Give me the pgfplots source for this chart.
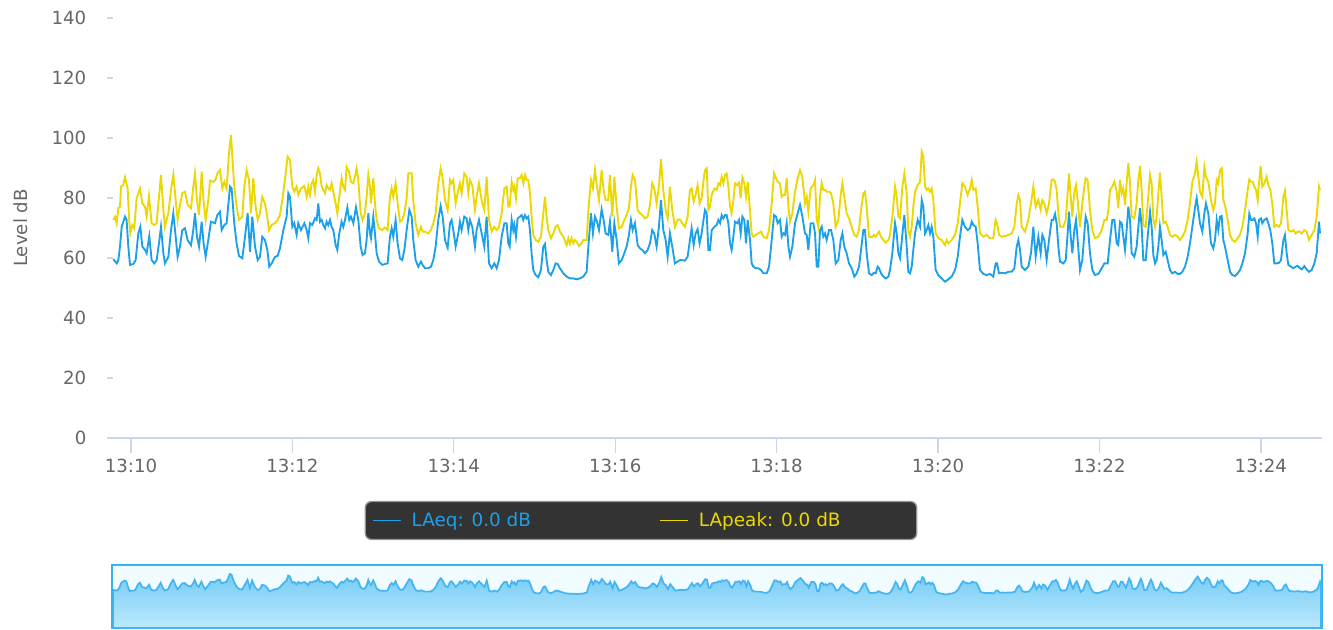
\documentclass[border=0pt]{standalone}
\usepackage{fontspec}
\setmainfont{DejaVu Sans}
\usepackage{pgfplots}
\usepackage{pgfplotstable}
\pgfplotsset{compat=1.18}
\definecolor{laeq}{RGB}{28,160,232}
\definecolor{lapeak}{RGB}{234,216,0}
\definecolor{tickgrey}{RGB}{204,214,235}
\definecolor{labelgrey}{RGB}{102,102,102}
\definecolor{legendbg}{RGB}{51,51,51}
\definecolor{legendborder}{RGB}{150,150,150}
\definecolor{navborder}{RGB}{55,178,240}
\definecolor{navline}{RGB}{70,180,240}
\definecolor{navbg}{RGB}{240,252,255}
\definecolor{navtop}{RGB}{118,204,245}
\definecolor{navbottom}{RGB}{188,234,253}

% LAeq (time in minutes after 13:00, level in dB)
\pgfplotstableread{
t v
9.781 59.6
9.823 58.2
9.843 59.3
9.864 63.8
9.885 70.4
9.926 73.8
9.946 72.7
9.967 63.8
9.988 57.7
10.029 58.0
10.058 59.3
10.091 68.2
10.116 70.4
10.141 63.8
10.174 62.7
10.194 61.6
10.227 67.3
10.256 59.3
10.289 58.2
10.318 59.3
10.347 64.9
10.372 70.4
10.401 61.6
10.421 58.2
10.463 60.4
10.496 69.3
10.525 74.9
10.554 67.1
10.578 60.4
10.607 63.8
10.636 69.3
10.669 69.9
10.702 66.0
10.744 64.3
10.772 69.3
10.793 74.9
10.818 67.1
10.843 63.8
10.876 72.1
10.900 64.9
10.925 60.4
10.958 66.0
10.991 72.1
11.041 71.6
11.070 74.3
11.103 75.4
11.124 69.3
11.157 71.0
11.185 71.6
11.227 83.8
11.247 83.2
11.280 71.6
11.309 64.9
11.338 60.7
11.380 59.9
11.413 67.1
11.446 74.9
11.475 62.1
11.503 73.8
11.537 63.8
11.570 59.3
11.598 60.4
11.627 67.1
11.660 66.0
11.689 62.7
11.714 57.1
11.743 58.2
11.784 60.4
11.817 60.7
11.846 63.2
11.888 69.3
11.929 73.8
11.950 81.6
11.970 80.4
11.999 70.4
12.024 71.6
12.053 67.7
12.073 71.6
12.106 69.3
12.148 71.6
12.177 69.3
12.197 66.6
12.218 71.6
12.247 71.0
12.280 73.2
12.301 72.7
12.321 78.2
12.342 72.1
12.363 72.7
12.383 71.0
12.404 69.9
12.424 72.1
12.445 71.0
12.466 72.7
12.486 70.4
12.507 69.3
12.536 64.3
12.557 62.7
12.581 68.2
12.610 72.1
12.631 70.4
12.652 72.7
12.681 76.8
12.705 72.7
12.726 73.8
12.755 71.6
12.788 76.9
12.817 72.7
12.846 63.8
12.870 61.0
12.899 61.6
12.920 66.0
12.941 74.9
12.961 68.2
12.974 66.6
13.003 73.8
13.023 68.2
13.044 61.6
13.073 58.8
13.114 57.7
13.147 58.0
13.180 58.2
13.209 67.1
13.230 69.9
13.250 67.1
13.279 72.7
13.304 64.9
13.333 59.9
13.362 59.3
13.387 62.7
13.416 69.3
13.449 76.0
13.478 73.8
13.498 66.0
13.527 59.3
13.560 57.1
13.593 58.8
13.614 57.7
13.643 56.6
13.684 56.6
13.717 57.1
13.746 59.3
13.775 63.8
13.808 72.7
13.837 77.3
13.862 73.8
13.891 66.0
13.924 63.4
13.953 71.6
13.973 72.7
13.994 69.3
14.023 63.8
14.056 68.2
14.076 72.1
14.097 69.3
14.130 73.8
14.159 73.2
14.180 69.3
14.200 72.7
14.229 70.4
14.262 63.8
14.283 69.3
14.312 72.7
14.345 68.2
14.378 63.8
14.407 73.8
14.436 58.2
14.469 56.6
14.502 58.2
14.531 56.6
14.560 59.3
14.593 67.1
14.626 71.6
14.655 71.6
14.675 64.9
14.692 63.8
14.717 72.7
14.737 69.3
14.750 71.0
14.770 67.1
14.791 73.2
14.820 73.8
14.841 74.3
14.861 72.7
14.882 74.3
14.902 73.2
14.923 73.8
14.944 69.3
14.964 61.6
14.985 56.0
15.014 54.3
15.047 53.6
15.080 56.0
15.109 63.8
15.130 64.7
15.150 59.3
15.171 55.4
15.204 54.3
15.233 56.0
15.262 58.2
15.287 58.0
15.315 56.6
15.357 54.9
15.398 53.8
15.439 53.2
15.481 53.2
15.522 52.9
15.563 53.2
15.605 53.8
15.646 55.4
15.667 63.8
15.700 74.9
15.724 68.2
15.749 73.8
15.774 72.1
15.799 69.3
15.832 76.2
15.856 72.7
15.881 68.2
15.914 67.7
15.935 72.1
15.964 62.1
15.989 71.6
16.018 66.0
16.046 58.2
16.080 59.3
16.113 61.6
16.141 63.8
16.170 67.7
16.195 72.7
16.216 69.3
16.245 71.6
16.278 64.3
16.307 63.2
16.336 62.7
16.369 61.6
16.402 62.7
16.431 64.9
16.459 69.3
16.484 68.2
16.513 63.8
16.542 70.4
16.567 79.3
16.596 69.3
16.625 66.0
16.650 60.4
16.678 68.2
16.707 63.8
16.740 58.2
16.773 58.8
16.802 59.3
16.831 59.3
16.864 59.1
16.897 60.4
16.926 66.0
16.947 69.9
16.972 64.3
16.996 68.2
17.021 69.6
17.046 64.9
17.071 68.2
17.100 73.8
17.113 76.0
17.134 74.9
17.154 62.7
17.175 62.7
17.196 69.3
17.229 70.4
17.258 71.0
17.278 72.7
17.299 71.6
17.320 74.3
17.340 73.2
17.361 74.3
17.381 74.3
17.402 71.6
17.423 64.9
17.443 62.7
17.464 67.1
17.485 72.1
17.514 71.6
17.534 72.7
17.555 68.2
17.576 73.8
17.600 72.7
17.621 64.9
17.642 72.7
17.671 66.0
17.691 58.2
17.712 57.1
17.741 56.6
17.774 56.6
17.807 56.0
17.836 54.9
17.877 54.9
17.906 57.1
17.939 66.0
17.968 74.3
17.993 73.8
18.013 71.6
18.042 72.7
18.063 67.1
18.084 68.2
18.104 67.7
18.125 71.6
18.146 63.8
18.166 60.4
18.195 63.8
18.228 71.6
18.261 74.9
18.290 77.7
18.319 73.8
18.352 68.2
18.373 67.7
18.393 62.7
18.422 71.6
18.455 71.6
18.476 68.2
18.497 57.1
18.517 57.1
18.538 69.3
18.559 70.4
18.579 67.1
18.600 68.2
18.620 66.0
18.649 69.3
18.674 69.3
18.703 66.0
18.732 58.2
18.765 59.3
18.794 66.0
18.815 68.2
18.839 63.8
18.868 61.6
18.897 58.2
18.930 56.6
18.963 53.8
18.992 54.9
19.021 57.1
19.046 62.7
19.075 69.3
19.095 69.3
19.116 61.6
19.145 54.9
19.178 54.3
19.207 55.1
19.228 54.9
19.252 57.1
19.269 56.6
19.294 54.9
19.323 53.8
19.352 53.2
19.385 53.8
19.405 56.0
19.434 61.6
19.467 71.6
19.488 68.2
19.508 61.6
19.529 59.9
19.558 67.7
19.583 74.3
19.612 63.8
19.632 55.4
19.653 54.9
19.674 57.1
19.694 62.7
19.715 68.2
19.748 72.7
19.777 70.4
19.798 79.3
19.818 77.1
19.839 68.2
19.859 69.3
19.880 71.0
19.901 68.2
19.921 70.4
19.942 67.1
19.971 56.0
20.004 54.3
20.045 53.2
20.087 52.1
20.128 52.9
20.169 53.8
20.211 56.0
20.244 60.4
20.272 67.1
20.301 72.7
20.334 70.4
20.367 69.3
20.396 69.9
20.417 72.1
20.438 71.0
20.467 70.4
20.491 64.9
20.520 56.0
20.562 54.7
20.603 54.3
20.644 54.7
20.685 53.8
20.714 58.2
20.731 58.2
20.756 54.9
20.789 55.1
20.830 54.9
20.871 55.4
20.913 55.4
20.946 56.6
20.975 63.8
20.995 66.0
21.016 62.7
21.037 57.1
21.078 56.0
21.119 57.1
21.152 61.6
21.181 70.4
21.210 60.4
21.243 67.1
21.272 61.6
21.293 67.7
21.317 66.0
21.346 59.3
21.375 66.0
21.408 72.7
21.429 72.7
21.450 74.7
21.470 71.6
21.491 63.8
21.511 58.8
21.553 58.2
21.582 59.3
21.606 68.2
21.623 75.4
21.644 67.1
21.664 61.6
21.689 69.3
21.710 72.7
21.730 66.0
21.759 56.0
21.788 59.3
21.813 68.2
21.829 73.8
21.854 71.6
21.883 61.6
21.912 56.0
21.945 54.3
21.986 54.7
22.028 56.6
22.061 58.2
22.090 58.2
22.102 58.2
22.131 66.0
22.160 72.7
22.185 72.7
22.214 64.9
22.234 64.3
22.255 72.1
22.276 71.6
22.296 67.1
22.317 62.7
22.337 69.3
22.358 77.1
22.379 72.7
22.399 61.6
22.432 60.4
22.461 63.8
22.482 70.4
22.503 76.6
22.523 70.4
22.544 59.3
22.573 59.3
22.598 67.1
22.627 75.4
22.647 70.4
22.668 61.0
22.689 58.2
22.709 59.3
22.730 63.8
22.750 70.4
22.771 66.0
22.792 61.0
22.821 62.1
22.845 59.3
22.874 56.0
22.903 54.9
22.936 55.4
22.969 54.7
22.998 54.7
23.027 55.4
23.060 57.1
23.093 60.4
23.122 64.9
23.151 70.4
23.184 76.8
23.205 79.9
23.225 76.0
23.246 71.6
23.275 68.8
23.300 74.9
23.320 78.2
23.349 74.9
23.382 64.9
23.411 63.2
23.432 66.0
23.453 72.7
23.473 69.3
23.494 73.8
23.515 74.0
23.535 66.0
23.556 63.8
23.589 59.3
23.618 55.4
23.647 54.3
23.680 54.0
23.713 54.9
23.742 56.0
23.771 58.2
23.804 61.6
23.837 68.2
23.857 74.7
23.878 72.7
23.899 72.7
23.919 73.2
23.940 71.6
23.961 67.1
23.977 72.7
24.002 73.2
24.018 71.6
24.043 72.7
24.072 73.2
24.093 71.6
24.117 69.3
24.142 64.9
24.167 58.2
24.196 58.2
24.225 58.4
24.250 59.3
24.279 66.0
24.299 67.7
24.320 61.6
24.341 57.7
24.374 57.1
24.403 56.6
24.431 57.1
24.456 57.4
24.485 56.6
24.506 56.2
24.539 57.3
24.568 56.2
24.597 55.4
24.630 56.0
24.663 58.2
24.692 61.6
24.721 72.1
24.733 68.2
}\laeqdata

% LApeak
\pgfplotstableread{
t v
9.781 72.7
9.802 73.8
9.823 71.6
9.843 76.6
9.864 77.1
9.876 83.8
9.905 84.3
9.926 86.9
9.959 83.2
9.975 73.8
9.992 68.2
10.017 71.0
10.041 69.9
10.070 79.9
10.112 83.2
10.141 78.2
10.174 77.1
10.194 73.8
10.223 80.7
10.256 71.6
10.289 71.0
10.318 71.6
10.347 80.4
10.372 87.7
10.401 76.0
10.421 70.4
10.463 74.9
10.496 82.7
10.525 87.7
10.554 79.3
10.578 72.7
10.607 77.7
10.636 81.6
10.669 82.1
10.702 77.7
10.744 76.6
10.772 83.8
10.793 88.2
10.818 79.3
10.843 74.3
10.876 88.8
10.900 78.8
10.925 72.7
10.958 79.3
10.979 85.8
11.020 85.4
11.049 86.2
11.070 88.2
11.103 89.3
11.132 83.2
11.157 85.4
11.185 83.2
11.214 94.9
11.239 101.0
11.256 93.8
11.280 83.8
11.309 77.1
11.338 72.7
11.380 73.8
11.404 83.8
11.433 89.3
11.462 86.0
11.487 74.9
11.516 86.6
11.545 77.1
11.570 72.7
11.598 74.9
11.627 80.4
11.660 78.2
11.689 73.8
11.710 69.3
11.743 71.0
11.784 71.6
11.817 72.7
11.846 74.3
11.875 79.3
11.908 86.2
11.941 93.8
11.970 92.7
11.999 83.8
12.024 82.1
12.053 83.8
12.073 81.0
12.106 83.2
12.148 84.0
12.177 80.4
12.197 83.8
12.218 81.0
12.239 84.9
12.259 86.0
12.280 82.1
12.301 87.7
12.321 89.9
12.342 88.2
12.363 83.8
12.383 82.7
12.404 81.6
12.424 84.3
12.445 83.2
12.466 82.7
12.486 84.9
12.507 82.1
12.536 78.2
12.557 74.9
12.581 80.4
12.610 86.6
12.631 83.8
12.652 82.7
12.672 90.4
12.701 88.8
12.726 85.4
12.755 84.9
12.776 87.1
12.796 89.9
12.817 86.0
12.846 74.9
12.870 72.7
12.899 74.9
12.920 80.4
12.941 87.7
12.961 83.8
12.974 78.2
13.003 86.6
13.023 78.2
13.044 72.7
13.073 69.9
13.114 69.3
13.147 70.2
13.180 69.3
13.209 80.4
13.230 83.2
13.250 80.4
13.279 84.9
13.304 78.2
13.333 72.1
13.362 72.7
13.387 74.9
13.416 79.9
13.436 88.2
13.478 88.2
13.498 79.3
13.527 71.6
13.560 67.7
13.593 70.4
13.614 68.8
13.643 68.8
13.684 68.2
13.717 69.3
13.746 71.6
13.775 74.9
13.808 84.9
13.837 89.9
13.862 86.6
13.891 79.3
13.924 76.0
13.953 86.0
13.973 84.9
13.994 86.0
14.023 78.2
14.056 82.7
14.076 84.9
14.097 81.6
14.130 88.2
14.159 87.1
14.180 81.6
14.200 86.0
14.229 84.3
14.262 76.0
14.283 80.4
14.312 84.9
14.345 79.3
14.378 76.0
14.407 87.1
14.436 72.7
14.469 68.8
14.502 70.4
14.531 69.3
14.560 70.4
14.593 74.9
14.626 83.2
14.655 83.8
14.675 77.1
14.692 77.1
14.717 85.4
14.737 82.7
14.750 83.8
14.770 79.9
14.791 86.6
14.820 86.6
14.841 87.7
14.861 84.9
14.882 87.7
14.902 86.0
14.923 86.0
14.944 81.6
14.964 73.8
14.985 67.7
15.014 66.0
15.047 65.4
15.080 67.1
15.109 74.9
15.130 80.4
15.150 73.8
15.171 69.3
15.204 66.6
15.233 68.2
15.262 70.4
15.287 71.0
15.315 68.8
15.357 67.1
15.398 64.3
15.419 66.6
15.439 64.7
15.460 66.6
15.481 64.9
15.501 66.0
15.522 65.4
15.551 64.0
15.584 64.9
15.605 66.0
15.646 66.0
15.667 76.0
15.700 86.0
15.724 83.2
15.749 89.3
15.774 83.8
15.799 79.3
15.832 89.3
15.856 82.7
15.881 79.3
15.914 79.3
15.935 87.7
15.964 73.8
15.989 87.1
16.018 77.1
16.046 69.9
16.080 70.4
16.113 72.7
16.141 74.3
16.170 76.6
16.195 83.8
16.216 87.7
16.245 86.0
16.278 76.0
16.307 74.9
16.336 74.3
16.369 73.2
16.402 73.8
16.431 77.7
16.459 84.9
16.484 83.2
16.513 78.2
16.542 83.8
16.567 92.9
16.596 82.7
16.625 76.0
16.650 73.2
16.678 83.8
16.707 76.0
16.740 70.4
16.773 72.7
16.802 72.9
16.831 71.6
16.864 70.4
16.897 73.8
16.926 82.7
16.947 83.2
16.972 78.8
16.996 81.0
17.021 84.3
17.046 78.2
17.071 79.9
17.100 87.1
17.113 89.3
17.134 89.9
17.154 76.0
17.175 77.1
17.196 81.0
17.229 83.2
17.258 82.7
17.278 84.9
17.299 84.3
17.320 87.1
17.340 84.9
17.361 87.7
17.381 88.2
17.402 83.8
17.423 77.1
17.443 74.9
17.464 79.3
17.485 84.9
17.514 84.3
17.534 85.1
17.555 79.9
17.576 86.9
17.600 84.9
17.621 80.4
17.642 85.4
17.671 75.4
17.691 68.2
17.712 67.1
17.741 67.7
17.774 68.2
17.807 68.8
17.836 67.1
17.877 66.6
17.906 69.3
17.939 78.2
17.968 88.2
17.993 86.6
18.013 85.4
18.042 84.9
18.063 80.4
18.084 81.0
18.104 81.0
18.125 86.6
18.146 77.1
18.166 72.1
18.195 74.9
18.228 82.1
18.261 86.6
18.290 89.3
18.319 87.1
18.352 78.2
18.373 80.4
18.393 75.4
18.422 83.2
18.455 84.3
18.476 86.0
18.497 72.7
18.517 70.4
18.538 80.4
18.559 84.9
18.579 82.7
18.600 82.7
18.620 82.1
18.649 82.1
18.674 81.6
18.703 78.2
18.732 70.4
18.765 72.7
18.794 81.0
18.815 84.9
18.839 80.4
18.868 74.9
18.897 73.2
18.930 70.4
18.963 67.7
18.992 67.1
19.021 69.3
19.046 76.0
19.075 81.6
19.095 82.1
19.116 77.1
19.145 67.1
19.178 66.9
19.207 67.7
19.228 67.1
19.252 68.2
19.269 68.8
19.294 67.1
19.323 66.0
19.352 65.1
19.385 66.0
19.405 67.7
19.434 73.8
19.467 83.8
19.488 80.4
19.508 73.8
19.529 73.2
19.558 83.8
19.583 88.2
19.612 81.6
19.632 69.3
19.653 67.1
19.674 70.4
19.694 77.1
19.715 82.1
19.748 84.3
19.777 85.4
19.798 95.4
19.818 93.8
19.839 83.8
19.859 82.7
19.880 83.2
19.901 82.1
19.921 83.2
19.942 79.3
19.971 68.2
20.004 66.6
20.045 66.0
20.087 64.3
20.107 66.0
20.128 64.9
20.169 66.0
20.211 67.7
20.244 71.6
20.272 78.2
20.301 84.9
20.334 83.8
20.367 81.0
20.396 83.2
20.417 86.0
20.438 82.7
20.467 83.2
20.491 77.1
20.520 68.2
20.562 67.1
20.603 67.7
20.644 66.6
20.685 66.6
20.714 72.7
20.731 71.6
20.756 67.7
20.789 67.1
20.830 67.3
20.871 67.7
20.913 68.2
20.946 70.4
20.975 78.2
20.995 81.0
21.016 79.3
21.037 70.4
21.078 68.8
21.119 72.7
21.152 78.2
21.181 83.8
21.210 77.1
21.243 79.3
21.272 76.0
21.293 79.3
21.317 78.2
21.346 74.9
21.375 78.2
21.408 86.0
21.429 86.2
21.450 85.4
21.470 82.7
21.491 74.9
21.511 70.4
21.553 70.4
21.582 72.7
21.606 81.6
21.623 88.2
21.644 80.4
21.664 73.8
21.689 82.1
21.710 84.3
21.730 79.3
21.759 70.4
21.788 78.2
21.813 83.8
21.829 86.6
21.854 86.0
21.883 76.0
21.912 69.3
21.945 66.6
21.986 67.1
22.028 69.3
22.061 72.7
22.090 72.7
22.110 76.0
22.131 82.7
22.160 83.8
22.185 85.4
22.214 82.1
22.234 76.6
22.255 86.0
22.276 81.6
22.296 83.2
22.317 77.7
22.337 84.9
22.358 91.6
22.379 84.9
22.399 73.8
22.432 73.2
22.461 78.2
22.482 86.0
22.503 90.7
22.523 82.7
22.544 71.0
22.573 70.4
22.598 78.2
22.627 87.7
22.647 84.9
22.668 72.7
22.689 70.4
22.709 73.8
22.730 81.6
22.750 88.4
22.771 80.4
22.792 71.6
22.821 72.1
22.845 70.4
22.874 67.7
22.903 67.1
22.936 67.7
22.969 67.1
22.998 66.0
23.027 67.1
23.060 68.8
23.093 72.7
23.122 78.2
23.151 85.4
23.184 88.2
23.205 92.1
23.225 87.1
23.246 82.1
23.275 80.4
23.300 90.4
23.320 87.1
23.349 85.4
23.382 79.3
23.411 76.0
23.432 78.2
23.453 86.0
23.473 84.9
23.494 89.3
23.515 89.9
23.535 79.3
23.556 77.7
23.589 72.7
23.618 67.7
23.647 66.0
23.680 65.4
23.713 66.6
23.742 67.7
23.771 70.4
23.804 76.0
23.837 82.7
23.857 86.2
23.878 85.4
23.899 85.4
23.919 83.8
23.940 82.7
23.961 79.3
23.977 84.9
23.998 90.7
24.018 83.8
24.043 84.9
24.072 87.1
24.093 84.3
24.117 82.7
24.142 78.2
24.167 70.4
24.196 71.0
24.225 70.4
24.250 71.6
24.279 80.4
24.299 82.4
24.320 76.0
24.341 69.3
24.374 68.8
24.403 69.3
24.431 68.2
24.456 68.8
24.485 68.8
24.506 68.2
24.539 69.3
24.568 68.8
24.597 66.0
24.630 67.7
24.663 69.3
24.692 73.8
24.721 83.8
24.733 82.7
}\lapeakdata

\begin{document}
\begin{tikzpicture}
\path[use as bounding box] (0pt,0pt) rectangle (999.75pt,-471.75pt);

\begin{axis}[
  scale only axis,
  width=911.25pt, height=315pt,
  at={(80.25pt,-328.5pt)}, anchor=south west,
  xmin=9.703, xmax=24.758,
  ymin=0, ymax=140,
  axis x line*=bottom, axis y line*=left,
  y axis line style={draw=none},
  x axis line style={draw=tickgrey, line width=1.2pt, -},
  ytick={0,20,...,140},
  tick align=inside,
  major tick length=4.5pt,
  ytick style={draw=tickgrey, line width=1pt},
  xtick=\empty,
  extra x ticks={10,12,14,16,18,20,22,24},
  extra x tick labels={13:10,13:12,13:14,13:16,13:18,13:20,13:22,13:24},
  extra x tick style={tick align=outside, major tick length=11pt,
     tick style={draw=tickgrey, line width=1pt},
     xticklabel style={yshift=-1.5pt}},
  tick label style={font=\fontsize{13.6pt}{16pt}\selectfont, text=labelgrey},
  yticklabel style={xshift=-12pt},
  /pgf/number format/assume math mode=true,
  ylabel={Level dB},
  every axis y label/.style={at={(rel axis cs:0,0.5)}, xshift=-64.5pt, rotate=90, anchor=center,
     font=\fontsize{13.6pt}{16pt}\selectfont, text=labelgrey},
  clip=false,
  legend columns=2,
  legend cell align=left,
  legend image code/.code={\draw[#1, line width=1pt] (0pt,0pt) -- (21pt,0pt);},
  legend style={at={(0.4395,-0.1964)}, anchor=center,
     fill=legendbg, draw=legendborder, line width=1pt, rounded corners=4.5pt,
     font=\fontsize{13.8pt}{16pt}\selectfont,
     inner xsep=5.25pt, inner ysep=6.2pt,
     column sep=7.5pt,
     nodes={inner xsep=0pt, inner ysep=2pt}},
]
\addplot[lapeak, line width=1.4pt, forget plot] table[x=t, y=v] {\lapeakdata};
\addplot[laeq, line width=1.4pt] table[x=t, y=v] {\laeqdata};
\addlegendentry{\makebox[178.5pt][l]{\textcolor{laeq}{LAeq: 0.0 dB}}}
\addlegendimage{lapeak}
\addlegendentry{\makebox[158pt][l]{\textcolor{lapeak}{LApeak: 0.0 dB}}}
\end{axis}

\begin{axis}[
  scale only axis,
  width=907.5pt, height=47.25pt,
  at={(84pt,-471pt)}, anchor=south west,
  xmin=9.769, xmax=24.745,
  ymin=0, ymax=98,
  xtick=\empty, ytick=\empty,
  axis line style={draw=navborder, line width=1.2pt},
  axis background/.style={fill=navbg},
]
\addplot[draw=navline, line width=1.3pt, top color=navtop, bottom color=navbottom] table[x=t, y=v] {\laeqdata} \closedcycle;
\draw[navborder, line width=2.2pt] (rel axis cs:0,0) -- (rel axis cs:0,1);
\end{axis}
\end{tikzpicture}
\end{document}
